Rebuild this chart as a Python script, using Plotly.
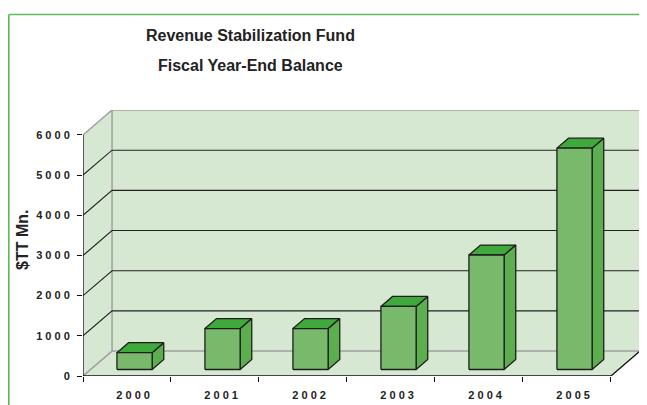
import plotly.graph_objects as go

# ---- data ----
years = ["2000", "2001", "2002", "2003", "2004", "2005"]
balances = [420, 1020, 1020, 1570, 2850, 5510]
y_ticks = [0, 1000, 2000, 3000, 4000, 5000, 6000]

# ---- 3D geometry (in axis units) ----
DX = 0.33          # depth offset along x (category units)
DY = 620           # depth offset along y (value units)
F0, F1 = 0.26, 0.66  # bar depth span (fraction of full depth)
BW = 0.40          # bar width (category units)
YMAX = 6000

WALL = "#d7e8d2"
FRONT = "#78b96b"
SIDE = "#5dae4e"
TOP = "#40a93b"
EDGE = "#1e1e1e"
GRAY = "#a0a0a0"

# page layout (page has an 8px body margin)
PL, PR, PT, PB = 83, 640, 110, 376   # plot area in page pixels


def px(x):
    return (x - PL) / (PR - PL)


def py(y):
    return (PB - y) / (PB - PT)


def spaced(s):
    return " ".join(list(s))


fig = go.Figure()


def poly(xs, ys, fill=None, color="black", width=1.0):
    fig.add_trace(go.Scatter(
        x=xs, y=ys, mode="lines",
        fill="toself" if fill else None,
        fillcolor=fill,
        line=dict(color=color, width=width),
        hoverinfo="skip", showlegend=False))


x_left = -0.5
x_right = len(years) - 0.5

# wall + floor background
poly([x_left, x_left, x_left + DX, x_right + DX, x_right + DX, x_right, x_left],
     [0, YMAX, YMAX + DY, YMAX + DY, DY, 0, 0], fill=WALL, color="rgba(0,0,0,0)", width=0)

# gray wall outline
poly([x_left, x_left + DX, x_right + DX, x_right + DX, x_left + DX, x_left + DX, x_left],
     [0, DY, DY, YMAX + DY, YMAX + DY, DY, 0], color=GRAY, width=1.5)
poly([x_left, x_left + DX], [YMAX, YMAX + DY], color=GRAY, width=1.5)

# gridlines
gx, gy = [], []
for t in y_ticks[1:-1]:
    gx += [x_left, x_left + DX, x_right + DX, None]
    gy += [t, t + DY, t + DY, None]
poly(gx, gy, color="#222222", width=1.1)

# front axis lines (black)
poly([x_left, x_left, None, x_left, x_right, x_right + DX],
     [YMAX, 0, None, 0, 0, DY], color="#111111", width=1.3)

# bars
fx, fy, sx, sy, tx, ty = [], [], [], [], [], []
d0x, d0y = F0 * DX, F0 * DY
ddx, ddy = (F1 - F0) * DX, (F1 - F0) * DY
for i, v in enumerate(balances):
    x0 = i - BW / 2 + d0x
    x1 = i + BW / 2 + d0x
    yb = d0y
    yt = d0y + v
    fx += [x0, x1, x1, x0, x0, None]
    fy += [yb, yb, yt, yt, yb, None]
    sx += [x1, x1 + ddx, x1 + ddx, x1, x1, None]
    sy += [yb, yb + ddy, yt + ddy, yt, yb, None]
    tx += [x0, x1, x1 + ddx, x0 + ddx, x0, None]
    ty += [yt, yt, yt + ddy, yt + ddy, yt, None]
poly(sx, sy, fill=SIDE, color=EDGE, width=1.3)
poly(tx, ty, fill=TOP, color=EDGE, width=1.3)
poly(fx, fy, fill=FRONT, color=EDGE, width=1.3)

font_b = "Liberation Sans, Arial, sans-serif"
title_font = dict(size=16, family=font_b, color="#222222", weight="bold")

fig.update_layout(
    width=639, height=397,
    margin=dict(l=PL - 8, r=647 - PR, t=PT - 8, b=405 - PB),
    paper_bgcolor="white", plot_bgcolor="white",
    font=dict(family=font_b, color="#222222"),
    xaxis=dict(
        range=[x_left, x_right + DX], showgrid=False, zeroline=False, showline=False,
        automargin=False,
        tickmode="array",
        tickvals=[i + 0.07 for i in range(len(years))],
        ticktext=[spaced(y) for y in years],
        ticks="", ticklabelstandoff=11,
        tickfont=dict(size=11, family=font_b, color="#222222", weight="bold"),
        minor=dict(tickmode="array",
                   tickvals=[i - 0.5 for i in range(len(years) + 1)],
                   ticks="outside", ticklen=5, tickcolor="#111111", tickwidth=1.3,
                   showgrid=False),
        fixedrange=True,
    ),
    yaxis=dict(
        range=[0, YMAX + DY], showgrid=False, zeroline=False, showline=False,
        automargin=False,
        tickmode="array", tickvals=y_ticks,
        ticktext=[spaced(str(t)) for t in y_ticks],
        ticks="outside", ticklen=5, tickcolor="#111111", tickwidth=1.3,
        ticklabelstandoff=5,
        tickfont=dict(size=11, family=font_b, color="#222222", weight="bold"),
        fixedrange=True,
    ),
    shapes=[
        dict(type="line", xref="paper", yref="paper",
             x0=px(8.8), x1=px(8.8), y0=py(420), y1=py(14.5),
             line=dict(color="#5cbb58", width=1.6), layer="below"),
        dict(type="line", xref="paper", yref="paper",
             x0=px(8.8), x1=px(647), y0=py(14.5), y1=py(14.5),
             line=dict(color="#5cbb58", width=1.6), layer="below"),
    ],
    annotations=[
        dict(text="Revenue Stabilization Fund", xref="paper", yref="paper",
             x=px(250), y=py(35), xanchor="center", yanchor="middle",
             showarrow=False, font=title_font),
        dict(text="Fiscal Year-End Balance", xref="paper", yref="paper",
             x=px(250), y=py(66), xanchor="center", yanchor="middle",
             showarrow=False, font=title_font),
        dict(text="$TT Mn.", xref="paper", yref="paper",
             x=px(22), y=py(240), xanchor="center", yanchor="middle",
             textangle=-90, showarrow=False, font=title_font),
    ],
)

fig.write_html("out.html")
